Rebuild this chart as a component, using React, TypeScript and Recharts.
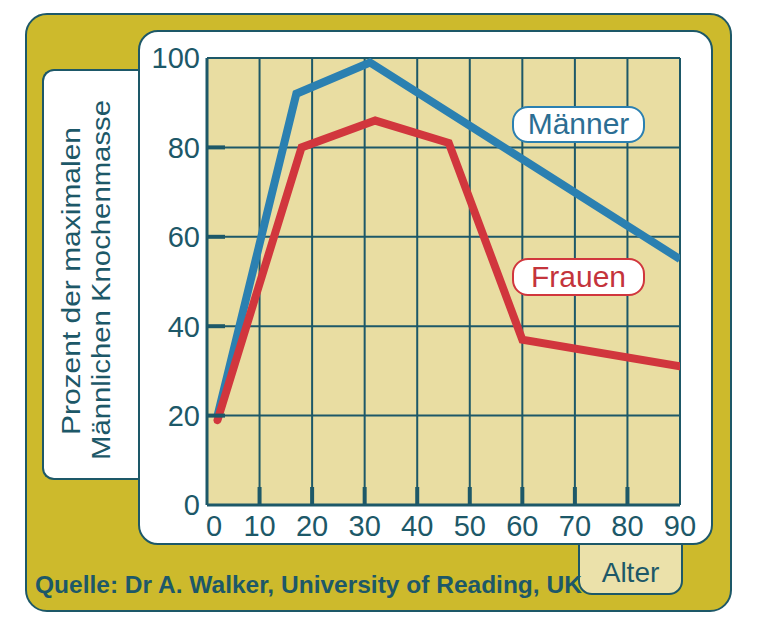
import React from 'react';
import { LineChart, Line, XAxis, YAxis, CartesianGrid } from 'recharts';

const menAge = [2, 17, 31, 90];
const menMass = [20, 92, 99, 55];
const womenAge = [2, 18, 32, 46, 60, 90];
const womenMass = [19, 80, 86, 81, 37, 31];
const ageTicks = [0, 10, 20, 30, 40, 50, 60, 70, 80, 90];
const massTicks = [0, 20, 40, 60, 80, 100];

const menData = menAge.map((age, i) => ({ age, mass: menMass[i] }));
const womenData = womenAge.map((age, i) => ({ age, mass: womenMass[i] }));

const teal = '#1d5868';
const olive = '#cdba2c';
const khaki = '#e9dda2';
const blue = '#2b80b1';
const red = '#d1363d';
const font = '"Liberation Sans", Arial, sans-serif';

function YTick(props: any) {
  const { x, y, payload } = props;
  const v = payload.value;
  return (
    <g>
      {v > 0 && v < 100 && (
        <line x1={x + 7} x2={x + 25} y1={y} y2={y} stroke={teal} strokeWidth={4} />
      )}
      <text x={x} y={y} dy="0.36em" textAnchor="end" fontSize={29} fontFamily={font} fill={teal}>
        {v}
      </text>
    </g>
  );
}

function XTick(props: any) {
  const { x, y, payload } = props;
  const v = payload.value;
  return (
    <g>
      {v > 0 && v < 90 && (
        <line x1={x} x2={x} y1={y - 10} y2={y - 28} stroke={teal} strokeWidth={4} />
      )}
      <text x={v === 0 ? x + 7 : x} y={y} dy="0.71em" textAnchor="middle" fontSize={29} fontFamily={font} fill={teal}>
        {v}
      </text>
    </g>
  );
}

export default function App() {
  return (
    <div style={{ position: 'absolute', left: 0, top: 0, width: 759, height: 638, background: '#fff', fontFamily: font }}>
      {/* outer frame */}
      <div style={{ position: 'absolute', left: 25, top: 13, width: 707, height: 599, background: olive, border: `2px solid ${teal}`, borderRadius: 22, boxSizing: 'border-box' }} />
      {/* y label panel */}
      <div style={{ position: 'absolute', left: 42, top: 69, width: 100, height: 411, background: '#fff', border: `2px solid ${teal}`, borderRight: 'none', borderRadius: '12px 0 0 12px', boxSizing: 'border-box' }} />
      {/* Alter tab */}
      <div style={{ position: 'absolute', left: 578, top: 530, width: 105, height: 65, background: '#ebe1aa', border: `2px solid ${teal}`, borderRadius: '0 0 14px 14px', boxSizing: 'border-box' }} />
      <div style={{ position: 'absolute', left: 578, top: 559, width: 105, textAlign: 'center', fontSize: 28, lineHeight: '28px', color: teal }}>Alter</div>
      {/* white panel */}
      <div style={{ position: 'absolute', left: 138, top: 30, width: 575, height: 515, background: '#fff', border: `2px solid ${teal}`, borderRadius: 20, boxSizing: 'border-box' }} />

      <div style={{ position: 'absolute', left: 0, top: 0 }}>
        <LineChart width={759} height={638} margin={{ top: 58, right: 79, bottom: 93, left: 0 }}>
          <CartesianGrid fill={khaki} stroke={teal} strokeWidth={2} />
          <XAxis
            type="number"
            dataKey="age"
            domain={[0, 90]}
            ticks={ageTicks}
            height={40}
            tickSize={0}
            tickMargin={10}
            axisLine={{ stroke: teal, strokeWidth: 3 }}
            tick={<XTick />}
            allowDataOverflow
          />
          <YAxis
            type="number"
            domain={[0, 100]}
            ticks={massTicks}
            width={207}
            tickSize={0}
            tickMargin={7}
            axisLine={{ stroke: teal, strokeWidth: 3 }}
            tick={<YTick />}
            allowDataOverflow
          />
          <Line data={menData} dataKey="mass" type="linear" stroke={blue} strokeWidth={8} dot={false} activeDot={false} isAnimationActive={false} strokeLinejoin="miter" />
          <Line data={womenData} dataKey="mass" type="linear" stroke={red} strokeWidth={8} dot={false} activeDot={false} isAnimationActive={false} strokeLinecap="round" strokeLinejoin="miter" />
        </LineChart>
      </div>

      {/* series labels */}
      <div style={{ position: 'absolute', left: 512, top: 106, width: 133, height: 37, background: '#fff', border: `2.5px solid ${blue}`, borderRadius: 16, boxSizing: 'border-box', textAlign: 'center', fontSize: 30, lineHeight: '32px', color: '#2c6e93' }}>Männer</div>
      <div style={{ position: 'absolute', left: 512, top: 258, width: 133, height: 38, background: '#fff', border: `2.5px solid ${red}`, borderRadius: 16, boxSizing: 'border-box', textAlign: 'center', fontSize: 30, lineHeight: '33px', color: '#c4343b' }}>Frauen</div>

      {/* y axis title */}
      <svg style={{ position: 'absolute', left: 0, top: 0 }} width={140} height={520}>
        <text transform="translate(80,281) rotate(-90)" textAnchor="middle" fontSize={25} fontFamily={font} fill={teal} textLength={308} lengthAdjust="spacingAndGlyphs">
          Prozent der maximalen
        </text>
        <text transform="translate(110,280) rotate(-90)" textAnchor="middle" fontSize={25} fontFamily={font} fill={teal} textLength={360} lengthAdjust="spacingAndGlyphs">
          Männlichen Knochenmasse
        </text>
      </svg>

      {/* source */}
      <div style={{ position: 'absolute', left: 35, top: 573, fontSize: 24.5, lineHeight: '24px', fontWeight: 'bold', color: teal, whiteSpace: 'nowrap' }}>
        Quelle: Dr A. Walker, University of Reading, UK
      </div>
    </div>
  );
}
